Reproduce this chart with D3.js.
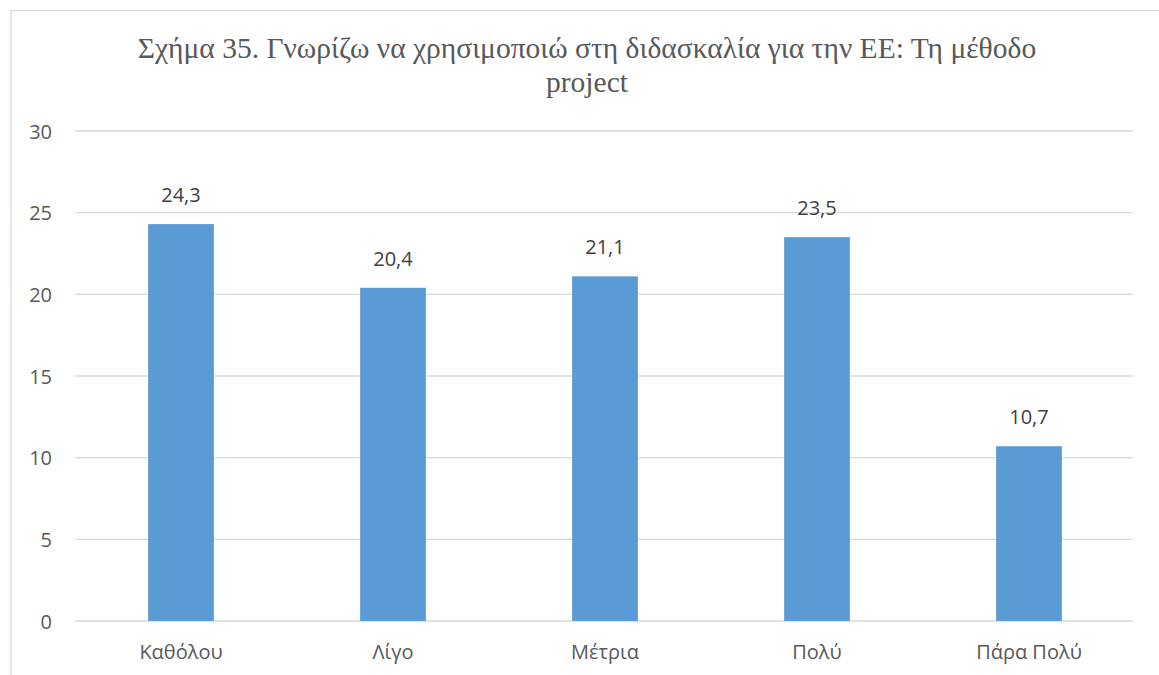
<!DOCTYPE html>
<html><head><meta charset="utf-8">
<script src="https://cdn.jsdelivr.net/npm/d3@7"></script>
<style>body{margin:0;background:#fff;}svg{display:block;}</style>
</head><body>
<svg id="c" width="1159" height="675"></svg>
<script>
const categories = ["Καθόλου", "Λίγο", "Μέτρια", "Πολύ", "Πάρα Πολύ"];
const values = [24.3, 20.4, 21.1, 23.5, 10.7];
const yTicks = [0, 5, 10, 15, 20, 25, 30];
const titleLines = ["Σχήμα 35. Γνωρίζω να χρησιμοποιώ στη διδασκαλία για την ΕΕ: Τη μέθοδο", "project"];

(function () {
const svg = d3.select("#c");
const W = 1159, H = 675;
svg.append("rect").attr("x", 11).attr("y", 10.5).attr("width", W).attr("height", H)
  .attr("fill", "#fff").attr("stroke", "#d9d9d9").attr("stroke-width", 1.2);

const pL = 75, pR = 1135, pT = 131, pB = 621;
const x = d3.scaleBand().domain(categories).range([pL, pR]).paddingInner(0.69).paddingOuter(0.345);
const y = d3.scaleLinear().domain([0, 30]).range([pB, pT]);

const g = svg.append("g");
g.selectAll("line.grid").data(yTicks).join("line")
  .attr("x1", pL).attr("x2", 1133)
  .attr("y1", d => y(d)).attr("y2", d => y(d))
  .attr("stroke", "#d9d9d9").attr("stroke-width", 1.3);

g.selectAll("text.yt").data(yTicks).join("text")
  .attr("x", 52).attr("y", d => y(d) + 7.5)
  .attr("text-anchor", "end").attr("font-family", "Open Sans, Calibri, sans-serif")
  .attr("font-size", 20).attr("fill", "#595959").text(d => d);

g.selectAll("rect.bar").data(values).join("rect")
  .attr("x", (d, i) => x(categories[i])).attr("width", x.bandwidth())
  .attr("y", d => y(d)).attr("height", d => y(0) - y(d))
  .attr("fill", "#5b9bd5");

g.selectAll("text.dl").data(values).join("text")
  .attr("x", (d, i) => x(categories[i]) + x.bandwidth() / 2)
  .attr("y", d => y(d) - 22)
  .attr("text-anchor", "middle").attr("font-family", "Open Sans, Calibri, sans-serif")
  .attr("font-size", 20).attr("fill", "#404040")
  .text(d => d.toFixed(1).replace(".", ","));

g.selectAll("text.cat").data(categories).join("text")
  .attr("x", d => x(d) + x.bandwidth() / 2).attr("y", 659)
  .attr("text-anchor", "middle").attr("font-family", "Open Sans, Calibri, sans-serif")
  .attr("font-size", 20).attr("fill", "#595959").text(d => d);

svg.selectAll("text.title").data(titleLines).join("text")
  .attr("x", 587).attr("y", (d, i) => 58 + i * 34)
  .attr("text-anchor", "middle").attr("font-family", "Liberation Serif, Times New Roman, serif")
  .attr("font-size", 29.5).attr("fill", "#595959").text(d => d);
})();
</script>
</body></html>
